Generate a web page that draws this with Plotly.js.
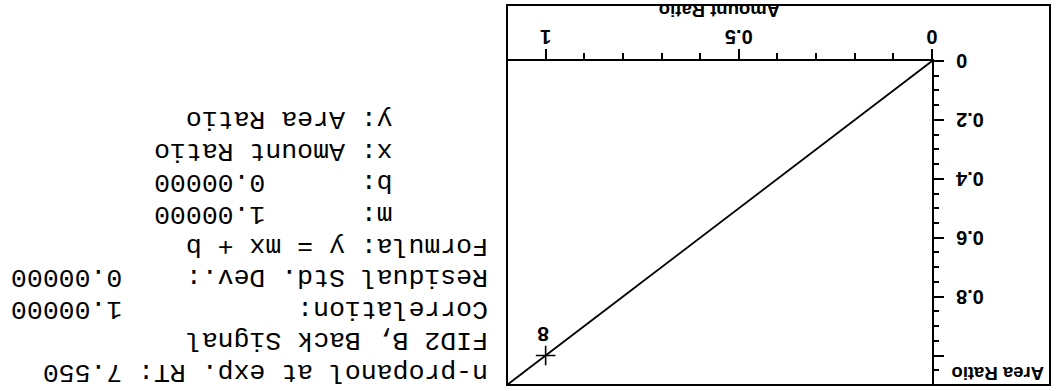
<!DOCTYPE html>
<html>
<head>
<meta charset="utf-8">
<script src="https://cdn.plot.ly/plotly-3.0.1.min.js"></script>
<style>
  html, body { margin: 0; padding: 0; background: #fff; overflow: hidden; }
  /* the printed calibration page is shown upside down */
  #chart { width: 1056px; height: 391px; transform: rotate(180deg); transform-origin: 50% 50%; }
</style>
</head>
<body>
<div id="chart"></div>
<script>
// calibration points
const amountRatio = [1.0];
const areaRatio = [1.0];
const levelLabels = ["8"];

// linear fit y = m*x + b
const fitSlope = 1.0;
const fitIntercept = 0.0;
const fitCorrelation = 1.0;
const fitResidualStdDev = 0.0;
const fitXRange = [0, 1.1];

// report text
const compoundLine = "n-propanol at exp. RT: 7.550";
const signalLine = "FID2 B, Back Signal";
const formulaLine = "Formula: y = mx + b";
const xAxisName = "Amount Ratio";
const yAxisName = "Area Ratio";

// axis ticks
const xTickVals = [0, 0.5, 1];
const xTickText = ["0", "0.5", "1"];
const yTickVals = [0, 0.2, 0.4, 0.6, 0.8, 1];
const yTickText = ["0", "0.2", "0.4", "0.6", "0.8", ""];

const NB = "\u00A0";
const pad = (s, n) => s + NB.repeat(Math.max(0, n - s.length));
const fmt = v => v.toFixed(5);

const reportLines = [
  compoundLine,
  signalLine,
  pad("Correlation:", 23) + fmt(fitCorrelation),
  pad("Residual Std. Dev.:", 23) + fmt(fitResidualStdDev),
  formulaLine,
  NB.repeat(6) + pad("m:", 8) + fmt(fitSlope),
  NB.repeat(6) + pad("b:", 8) + fmt(fitIntercept),
  NB.repeat(6) + "x: " + xAxisName,
  NB.repeat(6) + "y: " + yAxisName
];

// plot-area geometry in pixels (used to place page text around the axes)
const W = 1056, H = 391;
const M = { l: 124, r: 507, t: 6, b: 61 };
const plotW = W - M.l - M.r, plotH = H - M.t - M.b;
const px2paperX = px => (px - M.l) / plotW;
const px2paperY = py => (H - M.b - py) / plotH;

const fitY = fitXRange.map(x => fitSlope * x + fitIntercept);

const sans = "Liberation Sans, Arial, sans-serif";
const tickFont = { family: sans, size: 20, color: "#000", weight: "bold" };

const traces = [
  {
    x: fitXRange, y: fitY, mode: "lines", type: "scatter",
    line: { color: "#000", width: 1.8 }, hoverinfo: "skip", cliponaxis: true
  },
  {
    x: amountRatio, y: areaRatio, mode: "markers", type: "scatter",
    marker: { symbol: "cross-thin-open", size: 14, color: "#000", line: { color: "#000", width: 1.6 } },
    cliponaxis: false
  }
];

const annotations = [];
reportLines.forEach((t, i) => {
  annotations.push({
    xref: "paper", yref: "paper",
    x: px2paperX(566), y: px2paperY(19 + 31.6 * i),
    xanchor: "left", yanchor: "middle", showarrow: false,
    text: t,
    font: { family: "Liberation Mono, Courier New, monospace", size: 26.5, color: "#000" }
  });
});
// y axis name, printed horizontally above the axis
annotations.push({
  xref: "paper", yref: "paper",
  x: px2paperX(10), y: px2paperY(17),
  xanchor: "left", yanchor: "middle", showarrow: false,
  text: "<b>" + yAxisName + "</b>",
  font: { family: sans, size: 18.5, color: "#000" }
});
// x axis name, below the tick labels
annotations.push({
  xref: "paper", yref: "paper",
  x: px2paperX(336), y: px2paperY(380),
  xanchor: "center", yanchor: "middle", showarrow: false,
  text: "<b>" + xAxisName + "</b>",
  font: { family: sans, size: 18.5, color: "#000" }
});
// level labels next to the calibration points
amountRatio.forEach((x, i) => {
  annotations.push({
    xref: "x", yref: "y", x: x, y: areaRatio[i],
    xshift: 3, yshift: -21, showarrow: false,
    text: "<b>" + levelLabels[i] + "</b>",
    font: { family: "Liberation Sans Narrow, Liberation Sans, Arial, sans-serif", size: 21, color: "#000" }
  });
});

const layout = {
  width: W, height: H,
  margin: M,
  paper_bgcolor: "#fff", plot_bgcolor: "#fff",
  showlegend: false,
  xaxis: {
    range: fitXRange, showgrid: false, zeroline: false,
    showline: true, linecolor: "#000", linewidth: 2,
    ticks: "outside", ticklen: 10, tickwidth: 2, tickcolor: "#000",
    tickvals: xTickVals, ticktext: xTickText, tickfont: tickFont, ticklabelstandoff: -5,
    minor: { dtick: 0.1, tick0: 0, ticks: "outside", ticklen: 6, tickwidth: 2, tickcolor: "#000" },
    automargin: false, fixedrange: true
  },
  yaxis: {
    range: [0, 1.1], showgrid: false, zeroline: false,
    showline: true, linecolor: "#000", linewidth: 2,
    ticks: "outside", ticklen: 10, tickwidth: 2, tickcolor: "#000",
    tickvals: yTickVals, ticktext: yTickText, tickfont: tickFont, ticklabelstandoff: 8,
    minor: { dtick: 0.05, tick0: 0, ticks: "outside", ticklen: 5, tickwidth: 2, tickcolor: "#000" },
    automargin: false, fixedrange: true
  },
  shapes: [
    {
      type: "rect", xref: "paper", yref: "paper", layer: "above",
      x0: px2paperX(6), x1: px2paperX(549), y0: px2paperY(386), y1: px2paperY(6),
      line: { color: "#000", width: 2 }, fillcolor: "rgba(0,0,0,0)"
    }
  ],
  annotations: annotations
};

Plotly.newPlot("chart", traces, layout, { staticPlot: true, displayModeBar: false });
</script>
</body>
</html>
